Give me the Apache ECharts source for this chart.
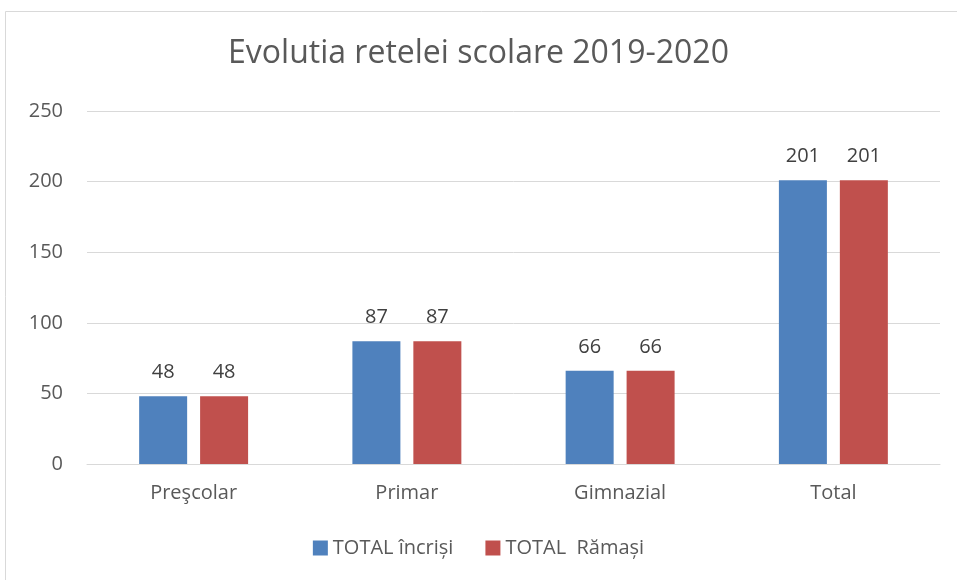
<!DOCTYPE html>
<html>
<head>
<meta charset="utf-8">
<script src="https://cdn.jsdelivr.net/npm/echarts@6/dist/echarts.min.js"></script>
<style>
html,body{margin:0;padding:0;background:#fff;}
#chart{width:957px;height:580px;}
</style>
</head>
<body>
<div id="chart"></div>
<script>
// date grafic
var categorii = ['Preşcolar', 'Primar', 'Gimnazial', 'Total'];
var inchisi = [48, 87, 66, 201];
var ramasi = [48, 87, 66, 201];
var numeSerii = ['TOTAL încriși', 'TOTAL  Rămași'];

var myChart = echarts.init(document.getElementById('chart'));
var font = '"Open Sans", sans-serif';

var option = {
    backgroundColor: '#fff',
    textStyle: { fontFamily: font },
    graphic: [{
        type: 'rect',
        shape: { x: 5.5, y: 11.5, width: 1000, height: 1000 },
        style: { fill: 'none', stroke: '#d9d9d9', lineWidth: 1 },
        silent: true
    }],
    title: {
        text: 'Evolutia retelei scolare 2019-2020',
        left: 'center',
        top: 33,
        textStyle: { fontFamily: font, fontSize: 32, fontWeight: 'normal', color: '#595959' }
    },
    legend: {
        bottom: 17,
        left: 'center',
        itemWidth: 15,
        itemHeight: 15,
        itemGap: 32,
        itemTextGap: 7,
        icon: 'rect',
        textStyle: { fontFamily: font, fontSize: 20, color: '#595959' },
        data: numeSerii
    },
    grid: { left: 87, right: 17, top: 111, bottom: 116 },
    xAxis: {
        type: 'category',
        data: categorii,
        axisLine: { lineStyle: { color: '#d9d9d9' } },
        axisTick: { show: false },
        axisLabel: { fontSize: 20, color: '#595959', margin: 19 }
    },
    yAxis: {
        type: 'value',
        min: 0,
        max: 250,
        interval: 50,
        axisLine: { show: false },
        axisTick: { show: false },
        splitLine: { lineStyle: { color: '#d9d9d9' } },
        axisLabel: { fontSize: 20, color: '#595959', margin: 24 }
    },
    series: [
        {
            name: numeSerii[0],
            type: 'bar',
            data: inchisi,
            barWidth: 48,
            barGap: '27%',
            itemStyle: { color: '#4f81bd' },
            label: { show: true, position: 'top', distance: 14, fontSize: 20, color: '#404040' }
        },
        {
            name: numeSerii[1],
            type: 'bar',
            data: ramasi,
            barWidth: 48,
            barGap: '27%',
            itemStyle: { color: '#c0504d' },
            label: { show: true, position: 'top', distance: 14, fontSize: 20, color: '#404040' }
        }
    ]
};

myChart.setOption(option);
window.addEventListener('resize', function () { myChart.resize(); });
</script>
</body>
</html>
